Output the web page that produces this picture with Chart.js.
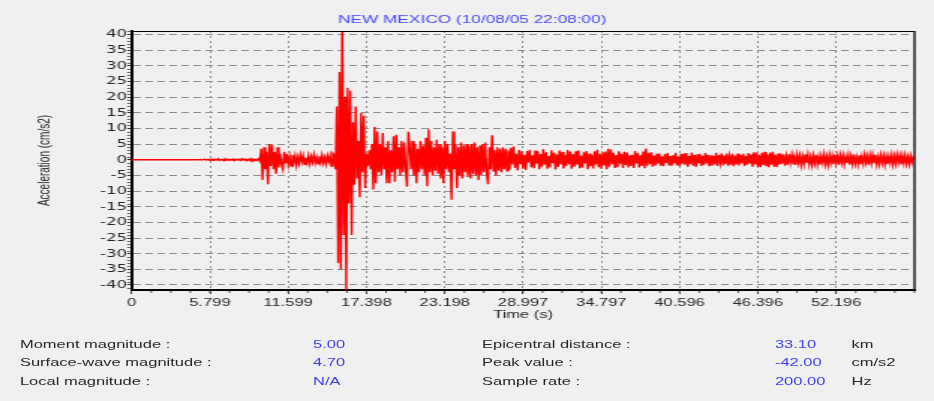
<!DOCTYPE html>
<html>
<head>
<meta charset="utf-8">
<script src="https://cdn.jsdelivr.net/npm/chart.js@4.4.0/dist/chart.umd.min.js"></script>
<style>
  html, body { margin: 0; padding: 0; background: #f0f0f0; overflow: hidden; }
  /* the original screenshot is stretched sideways, so draw narrow and stretch */
  #wrap { position: relative; width: 623px; height: 401px; transform: scaleX(1.4992); transform-origin: 0 0;
          font-family: "Liberation Sans", Arial, sans-serif; font-size: 11px; color: #262626; }
  #chart { position: absolute; left: 0; top: 0; }
  .info { position: absolute; white-space: nowrap; line-height: 13px; }
  .val { color: #4040f0; }
</style>
</head>
<body>
<div id="wrap">
  <canvas id="chart" width="623" height="330" style="width:623px;height:330px"></canvas>
  <div id="info"></div>
</div>
<script>
var chartTitle = 'NEW MEXICO (10/08/05 22:08:00)';
var yTitle = 'Acceleration (cm/s2)';
var xTitle = 'Time (s)';

var xTicks = ['0', '5.799', '11.599', '17.398', '23.198', '28.997', '34.797', '40.596', '46.396', '52.196'];
var yTicks = [-40, -35, -30, -25, -20, -15, -10, -5, 0, 5, 10, 15, 20, 25, 30, 35, 40];

// acceleration every 0.1 s (one row = one second)
var readStep = 0.1;
var accel = [
    0, 0, 0, 0, 0, 0, 0, 0, 0, 0,
    0, 0, 0, 0, 0, 0, 0, 0, 0, 0,
    0, 0, 0, 0, 0, 0, 0, 0, 0, 0,
    0, 0, 0, 0, 0, 0, 0, 0, 0, 0,
    0, 0, 0, 0, 0, 0, 0, 0, 0, 0,
    0, 0.1, -0.1, 0, 0.2, -0.1, 0, 0.1, -0.2, 0.1,
    0.2, -0.2, 0.1, -0.1, 0.3, -0.2, 0.1, 0, -0.3, 0.2,
    -0.1, 0.2, -0.2, 0.1, -0.1, 0.2, -0.3, 0.2, -0.1, 0.1,
    0.2, -0.2, 0.3, -0.1, 0.2, -0.3, 0.1, -0.2, 0.3, -0.2,
    0.2, -0.3, 0.1, -0.2, 0.3, -0.4, 3.5, -6.5, 4, -3,
    2.5, -7.8, 5, -2, 4.8, -3, 2.5, -4.5, 4, -2.5,
    2, -1.5, -3, 2.5, -1.2, 1.8, -1.5, 1, -2, 1.5,
    -1, 1.2, -1.8, 0.8, -1.2, 1.5, -0.8, 1.2, -1.5, 0.6,
    -1, 1.3, -1.2, 1, -0.8, 1.6, -1, 0.8, -1.3, 1.1,
    -0.9, 1.4, -1.1, 0.7, -1.4, 1.2, -0.6, 1.3, -2, 2,
    1.5, -3, 17, -33, 28, -35, 46, -24, 20, -42,
    23, -14, 22, -24, 12, -8, 17, -6, 6, -12,
    15, -4, 14, -9, 2, -2, 3, -3, 5, -9.5,
    10.5, -7.5, 9, -4, 5, -5, 8.5, -3, 4, -7.5,
    6, -7.5, 3, -4, 7.5, -7, 8, -3, 4, -5,
    6, -4, 5.5, -3, -8.6, 8.9, 4, -3, 6, -5,
    5, -7.5, 3.5, -4, 6, -3, 4.5, -5, 7, -8.5,
    9.7, -4, 6, -5, 4, -3.5, 6.4, -4.5, 5, -6,
    4, -7.5, 6, -3, 5, -4, 2, -12.8, 9, -3,
    5, -9, 4, -5, 5.5, -6, 4.5, -4, 5, -5.5,
    4.5, -6, 5, -4.5, 5.5, -5, 4, -6.5, 4.5, -5,
    5, -4, 5.5, -4, -7.8, 4, -3, 7.8, -3.5, 3,
    -5, 4, -3.5, 3.5, -4, 4, -3, 3.5, -3.5, 3,
    -3.2, 3.8, -1.5, 4.2, -2.6, 1.9, -3.4, 3.1, -1.2, 2.7,
    -2.9, 1.6, -3.3, 2.8, -0.9, 3.2, -2.4, 1.4, -2.7, 2.9,
    -1.3, 2.6, -3, 1.8, -2.2, 3.3, -1.6, 2.4, -2.9, 1.2,
    -2.5, 3, -1.1, 2.2, -3.1, 1.7, -2.3, 2.9, -1.5, 2.5,
    -2.8, 1.5, -2, 3.1, -1.4, 2.6, -2.9, 1.8, -2.2, 2.7,
    -1.6, 2.9, -2.7, 1.3, -2.5, 2.4, -1.2, 2.8, -3, 2,
    -2.1, 1.6, -2.8, 2.7, -1.5, 3.2, -2.4, 1.9, -2.9, 2.3,
    -1.8, 2.6, -3, 3.5, -2.2, 3.3, -1.4, 2.2, -2.6, 1.5,
    -2.4, 2.7, -1.3, 1.9, -2.6, 2.5, -1.7, 2.3, -2.5, 1.4,
    -2, 1.6, -2.6, 2.8, -1.2, 2.1, -2.5, 1.5, -2, 2.6,
    -2.7, 3.6, -1.9, 2.2, -1.4, 2.4, -2.2, 1.3, -1.9, 1.9,
    -1.3, 2, -1.9, 1.1, -2.1, 1.8, -1, 2.1, -1.8, 1.2,
    -2, 1.4, -1.2, 2.2, -1.8, 1, -2.1, 1.9, -1.3, 2,
    -1.6, 2.1, -2.2, 1.2, -1.4, 2.3, -1.9, 1.5, -2.3, 1.7,
    -1.1, 1.8, -2, 1.3, -1.7, 2.1, -1.2, 1.6, -2.1, 1.4,
    -1.9, 1.2, -1.5, 2.2, -2, 1.5, -1.1, 2, -1.8, 1.3,
    -1.4, 2, -1.9, 1.1, -1.6, 1.9, -2.1, 1.3, -1.5, 2,
    -1.8, 1.5, -1.2, 1.9, -2, 1.2, -1.6, 2.1, -1.3, 1.7,
    -2.2, 2.4, -1.5, 2.3, -2.3, 1.6, -2.4, 2.2, -1.7, 2.5,
    -2.1, 1.7, -2.4, 2.3, -1.6, 2.5, -2.2, 1.6, -2.3, 2,
    -1.6, 2, -1.3, 1.7, -1.9, 1.1, -1.6, 1.8, -1, 1.5,
    -1.5, 1, -1.7, 1.6, -0.9, 1.4, -1.6, 1.1, -1.4, 1.7,
    -1, 1.6, -1.5, 0.9, -1.7, 1.3, -1.1, 1.6, -1.5, 1,
    -1.6, 1.2, -0.9, 1.7, -1.4, 1, -1.6, 1.5, -1, 1.3,
    -1.4, 1.7, -1.1, 1.2, -1.6, 1.5, -0.9, 1.4, -1.5, 1,
    -1, 1.5, -1.6, 1.1, -1.3, 1.7, -1.2, 0.9, -1.5, 1.4,
    -1.5, 1, -1.3, 1.6, -0.9, 1.2, -1.6, 1.4, -1.1, 1.5,
    -1.2, 1.6, -1.5, 0.9, -1.4, 1.5, -1, 1.3, -1.6, 1.1,
    -1.4, 1.1, -1, 1.5, -1.5, 1.2, -1.3, 1.6, -0.9, 1.3,
    -1.5, 1.3, -1.1, 1.4, -1.3, 0.9, -1.4, 1.2, -1, 0.8,
    0
];

var infoLabelsLeft = ['Moment magnitude :', 'Surface-wave magnitude :', 'Local magnitude :'];
var infoValuesLeft = ['5.00', '4.70', 'N/A'];
var infoLabelsRight = ['Epicentral distance :', 'Peak value :', 'Sample rate :'];
var infoValuesRight = ['33.10', '-42.00', '200.00'];
var infoUnits = ['km', 'cm/s2', 'Hz'];

var textFont = '"Liberation Sans", Arial, sans-serif';
var textColor = '#262626';

function buildInfo() {
    var box = document.getElementById('info');
    var cols = [
        { x: 13.3, items: infoLabelsLeft, cls: '' },
        { x: 208.8, items: infoValuesLeft, cls: 'val' },
        { x: 321.5, items: infoLabelsRight, cls: '' },
        { x: 516.9, items: infoValuesRight, cls: 'val' },
        { x: 568, items: infoUnits, cls: '' }
    ];
    cols.forEach(function (col) {
        col.items.forEach(function (txt, i) {
            var el = document.createElement('div');
            el.className = 'info ' + col.cls;
            el.style.left = col.x + 'px';
            el.style.top = (337.5 + i * 18.6) + 'px';
            el.textContent = txt;
            box.appendChild(el);
        });
    });
}

var frame = {
    id: 'frame',
    afterDatasetsDraw: function (chart) {
        var ctx = chart.ctx, a = chart.chartArea;
        var xs = chart.scales.x, ys = chart.scales.y;
        ctx.save();
        ctx.strokeStyle = '#000';
        ctx.lineWidth = 1;
        ctx.beginPath();
        ctx.moveTo(a.left, Math.round(a.top) + 0.5);
        ctx.lineTo(a.right, Math.round(a.top) + 0.5);
        ctx.stroke();
        ctx.strokeStyle = '#222';
        ctx.lineWidth = 1.5;
        ctx.beginPath();
        ctx.moveTo(a.right, a.top);
        ctx.lineTo(a.right, a.bottom);
        ctx.stroke();
        // minor ticks
        ctx.strokeStyle = '#555';
        ctx.lineWidth = 1;
        var step = parseFloat(xTicks[1]) / 4;
        for (var v = step; v < xs.max; v += step) {
            var px = xs.getPixelForValue(v);
            ctx.beginPath();
            ctx.moveTo(px, a.bottom + 1);
            ctx.lineTo(px, a.bottom + 3);
            ctx.stroke();
        }
        for (var y = -41; y <= 41; y++) {
            if (y % 5 === 0) continue;
            var py = Math.round(ys.getPixelForValue(y)) + 0.5;
            ctx.beginPath();
            ctx.moveTo(a.left - 3, py);
            ctx.lineTo(a.left - 1, py);
            ctx.stroke();
        }
        ctx.restore();
    }
};

function createChart() {
    var ctx = document.getElementById('chart');
    var points = accel.map(function (v, i) {
        return { x: i * readStep, y: v };
    });

    var data = {
        datasets: [{
            data: points,
            borderColor: '#ff0000',
            borderWidth: 1.4,
            pointRadius: 0,
            tension: 0
        }]
    };

    var option = {
        responsive: false,
        animation: false,
        devicePixelRatio: 1,
        layout: { padding: { left: 20, right: 13, top: 0, bottom: 0 } },
        plugins: {
            legend: { display: false },
            tooltip: { enabled: false },
            title: {
                display: true,
                text: chartTitle,
                color: '#4646ff',
                font: { family: textFont, size: 11.5, weight: 'normal' },
                padding: { top: 12.5, bottom: 4.7 }
            }
        },
        scales: {
            x: {
                type: 'linear',
                min: 0,
                max: 58,
                afterBuildTicks: function (scale) {
                    scale.ticks = xTicks.map(function (t) { return { value: parseFloat(t) }; });
                },
                afterFit: function (scale) { scale.height = 40; },
                ticks: {
                    autoSkip: false,
                    maxRotation: 0,
                    padding: 2,
                    color: textColor,
                    font: { family: textFont, size: 11 },
                    callback: function (value, index) { return xTicks[index]; }
                },
                grid: {
                    color: function (c) { return c.index === 0 ? 'rgba(0,0,0,0)' : '#8c8c8c'; },
                    lineWidth: 1,
                    drawTicks: true,
                    tickLength: 4,
                    tickColor: '#333'
                },
                border: { display: true, color: '#000', width: 2, dash: [2, 3] },
                title: {
                    display: true,
                    text: xTitle,
                    color: textColor,
                    font: { family: textFont, size: 11 },
                    padding: { top: 0, bottom: 8.4 }
                }
            },
            y: {
                min: -41.6,
                max: 41.1,
                afterBuildTicks: function (scale) {
                    scale.ticks = yTicks.map(function (t) { return { value: t }; });
                },
                afterFit: function (scale) { scale.width = 67.8; },
                ticks: {
                    autoSkip: false,
                    padding: 0,
                    color: textColor,
                    font: { family: '"DejaVu Sans", sans-serif', size: 11 }
                },
                grid: {
                    color: '#8c8c8c',
                    lineWidth: 1,
                    drawTicks: true,
                    tickLength: 3,
                    tickColor: '#333'
                },
                border: { display: true, color: '#000', width: 2, dash: [5, 3] },
                title: {
                    display: true,
                    text: yTitle,
                    color: textColor,
                    font: { family: textFont, size: 10 },
                    padding: { top: 4, bottom: 0 }
                }
            }
        }
    };

    var myChart = new Chart(ctx, {
        type: 'line',
        data: data,
        options: option,
        plugins: [frame]
    });
}

buildInfo();
createChart();
</script>
</body>
</html>
